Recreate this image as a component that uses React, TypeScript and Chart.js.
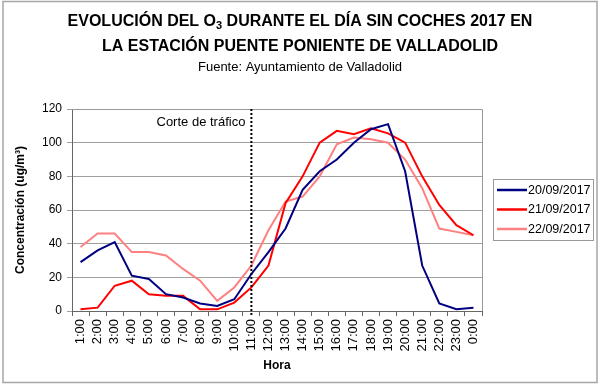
import React, { useEffect, useRef } from "react";
import { Chart, registerables } from "chart.js";

Chart.register(...registerables);

const hours = ["1:00","2:00","3:00","4:00","5:00","6:00","7:00","8:00","9:00","10:00","11:00","12:00","13:00","14:00","15:00","16:00","17:00","18:00","19:00","20:00","21:00","22:00","23:00","0:00"];
const serie20 = [29, 36, 41, 21, 19, 10, 8, 4.5, 3, 7, 22, 35, 49, 72, 83, 90, 100, 108, 111, 83, 27, 4.5, 1, 2];
const serie21 = [1, 2, 15, 18, 10, 9, 9, 1, 1, 5, 14, 27, 64, 80, 100, 107, 105, 108.5, 105.5, 100, 80, 63, 51, 45];
const serie22 = [38, 46, 46, 35, 35, 33, 25, 18, 6, 14, 27, 48, 65, 68, 80, 99, 103, 102, 100, 90, 73, 49, 47, 45];
const seriesLabels = ["20/09/2017", "21/09/2017", "22/09/2017"];
const seriesColors = ["#000080", "#FF0000", "#FF8080"];
const yTicks = [0, 20, 40, 60, 80, 100, 120];

const titlePart1 = "EVOLUCIÓN DEL O";
const titleSub = "3";
const titlePart2 = " DURANTE EL DÍA SIN COCHES 2017 EN";
const titleLine2 = "LA ESTACIÓN PUENTE PONIENTE DE VALLADOLID";
const subtitleText = "Fuente: Ayuntamiento de Valladolid";
const cutLabel = "Corte de tráfico";
const cutIndex = 10;
const yTitle = "Concentración (ug/m³)";
const xTitle = "Hora";

const FONT = '"Liberation Sans", Arial, sans-serif';

const decorPlugin = {
  id: "decor",
  beforeDraw(chart: any) {
    const ctx = chart.ctx;
    ctx.save();
    ctx.fillStyle = "#ffffff";
    ctx.fillRect(0, 0, chart.width, chart.height);
    ctx.restore();
  },
  afterDraw(chart: any) {
    const ctx = chart.ctx;
    const area = chart.chartArea;
    const xs = chart.scales.x;
    ctx.save();
    // plot border top/right
    ctx.strokeStyle = "#999999";
    ctx.lineWidth = 1;
    ctx.beginPath();
    ctx.moveTo(area.left, Math.round(area.top) + 0.5);
    ctx.lineTo(Math.round(area.right) + 0.5, Math.round(area.top) + 0.5);
    ctx.lineTo(Math.round(area.right) + 0.5, area.bottom);
    ctx.stroke();

    // dotted cut line
    const cx = xs.getPixelForValue(cutIndex);
    ctx.strokeStyle = "#000000";
    ctx.lineWidth = 2;
    ctx.setLineDash([2, 2]);
    ctx.beginPath();
    ctx.moveTo(cx, area.top);
    ctx.lineTo(cx, area.bottom + 4);
    ctx.stroke();
    ctx.setLineDash([]);

    ctx.fillStyle = "#000000";
    ctx.font = "13px " + FONT;
    ctx.textAlign = "right";
    ctx.textBaseline = "middle";
    ctx.fillText(cutLabel, cx - 6, 122);

    // titles
    ctx.font = "bold 16px " + FONT;
    const w1 = ctx.measureText(titlePart1).width;
    const w3 = ctx.measureText(titlePart2).width;
    ctx.font = "bold 11px " + FONT;
    const w2 = ctx.measureText(titleSub).width;
    const total = w1 + w2 + w3;
    let tx = chart.width / 2 - total / 2;
    ctx.textAlign = "left";
    ctx.font = "bold 16px " + FONT;
    ctx.fillText(titlePart1, tx, 22);
    ctx.font = "bold 11px " + FONT;
    ctx.fillText(titleSub, tx + w1, 26);
    ctx.font = "bold 16px " + FONT;
    ctx.fillText(titlePart2, tx + w1 + w2, 22);
    ctx.textAlign = "center";
    ctx.fillText(titleLine2, chart.width / 2, 47);
    ctx.font = "13px " + FONT;
    ctx.fillText(subtitleText, chart.width / 2, 67);

    // legend
    const lx = 493, ly = 179, lw = 100, lh = 61;
    ctx.fillStyle = "#ffffff";
    ctx.fillRect(lx, ly, lw, lh);
    ctx.strokeStyle = "#999999";
    ctx.lineWidth = 1;
    ctx.strokeRect(lx + 0.5, ly + 0.5, lw, lh);
    const rows = [190, 209.5, 229];
    chart.data.datasets.forEach((ds: any, i: number) => {
      ctx.strokeStyle = ds.borderColor;
      ctx.lineWidth = 2.5;
      ctx.beginPath();
      ctx.moveTo(497, rows[i]);
      ctx.lineTo(527, rows[i]);
      ctx.stroke();
      ctx.fillStyle = "#000000";
      ctx.font = "12.5px " + FONT;
      ctx.textAlign = "left";
      ctx.textBaseline = "middle";
      ctx.fillText(ds.label, 528, rows[i] + 0.5);
    });

    // outer frame
    ctx.strokeStyle = "#a6a6a6";
    ctx.lineWidth = 1.5;
    ctx.strokeRect(3, 1.5, 594, 381);
    ctx.restore();
  },
};

export default function App() {
  const canvasRef = useRef<HTMLCanvasElement | null>(null);

  useEffect(() => {
    document.body.style.margin = "0";
    const canvas = canvasRef.current;
    if (!canvas) return;
    const chart = new Chart(canvas, {
      type: "line",
      data: {
        labels: hours,
        datasets: [serie20, serie21, serie22].map((d, i) => ({
          label: seriesLabels[i],
          data: d,
          borderColor: seriesColors[i],
          backgroundColor: seriesColors[i],
          borderWidth: 2,
          pointRadius: 0,
          tension: 0,
          fill: false,
        })),
      },
      options: {
        responsive: false,
        animation: false,
        events: [],
        layout: { padding: { top: 109, right: 118, left: 0, bottom: 0 } },
        plugins: {
          legend: { display: false },
          title: { display: false },
          tooltip: { enabled: false },
        },
        scales: {
          x: {
            type: "category",
            offset: true,
            afterFit: (s: any) => { s.height = 79; },
            grid: {
              offset: true,
              drawOnChartArea: false,
              drawTicks: true,
              tickLength: 5,
              color: "#666666",
            },
            border: { color: "#666666", width: 1 },
            ticks: {
              autoSkip: false,
              maxRotation: 90,
              minRotation: 90,
              padding: 3,
              color: "#000000",
              font: { family: FONT, size: 13 },
            },
            title: {
              display: true,
              text: xTitle,
              color: "#000000",
              font: { family: FONT, size: 12, weight: "bold" },
              padding: { top: 0, bottom: 17 },
            },
          },
          y: {
            min: 0,
            max: 120,
            afterFit: (s: any) => { s.width = 72; },
            afterBuildTicks: (s: any) => { s.ticks = yTicks.map((v) => ({ value: v })); },
            grid: {
              color: "#a0a0a0",
              lineWidth: 1,
              tickLength: 5,
            },
            border: { color: "#666666", width: 1 },
            ticks: {
              padding: 5,
              color: "#000000",
              font: { family: FONT, size: 12 },
            },
            title: {
              display: true,
              text: yTitle,
              color: "#000000",
              font: { family: FONT, size: 12, weight: "bold" },
              padding: { top: 13, bottom: 0 },
            },
          },
        },
      },
      plugins: [decorPlugin],
    });
    return () => chart.destroy();
  }, []);

  return <canvas ref={canvasRef} width={600} height={390} style={{ display: "block" }} />;
}
